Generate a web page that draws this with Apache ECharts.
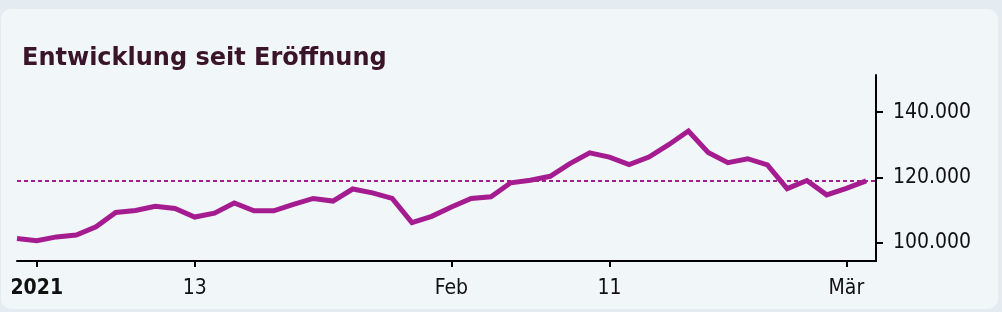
<!DOCTYPE html>
<html>
<head>
<meta charset="utf-8">
<script src="https://cdn.jsdelivr.net/npm/echarts@6/dist/echarts.min.js"></script>
<style>
  html, body { margin: 0; padding: 0; width: 1002px; height: 312px; background: #e4ecf2; overflow: hidden; }
  #card { position: absolute; left: 1px; top: 9px; width: 997px; height: 300px; background: #f1f6f9; border-radius: 10px; }
  #chart { position: absolute; left: 0; top: 0; width: 1002px; height: 312px; }
</style>
</head>
<body>
<div id="card"></div>
<div id="chart"></div>
<script>
const title = 'Entwicklung seit Eröffnung';
const dates = [
  '2020-12-31','2021-01-01','2021-01-04','2021-01-05','2021-01-06','2021-01-07','2021-01-08',
  '2021-01-11','2021-01-12','2021-01-13','2021-01-14','2021-01-15',
  '2021-01-18','2021-01-19','2021-01-20','2021-01-21','2021-01-22',
  '2021-01-25','2021-01-26','2021-01-27','2021-01-28','2021-01-29',
  '2021-02-01','2021-02-02','2021-02-03','2021-02-04','2021-02-05',
  '2021-02-08','2021-02-09','2021-02-10','2021-02-11','2021-02-12',
  '2021-02-15','2021-02-16','2021-02-17','2021-02-18','2021-02-19',
  '2021-02-22','2021-02-23','2021-02-24','2021-02-25','2021-02-26',
  '2021-03-01','2021-03-02'
];
const values = [
  101200, 100500, 101700, 102300, 104800, 109200, 109800,
  111100, 110400, 107800, 109000, 112100,
  109700, 109700, 111700, 113500, 112700,
  116400, 115200, 113500, 106100, 108000,
  110900, 113500, 114000, 118300, 119100,
  120300, 124200, 127500, 126200, 123900,
  126200, 130000, 134200, 127600, 124500,
  125700, 123800, 116500, 119000, 114600,
  116600, 118900
];
const tickDates = ['2021-01-01', '2021-01-13', '2021-02-01', '2021-02-11', '2021-03-01'];
const tickLabels = ['2021', '13', 'Feb', '11', 'Mär'];
const yTicks = [100000, 120000, 140000];

const tickIdx = tickDates.map(d => dates.indexOf(d));
const labelFont = '"DejaVu Sans Condensed", "DejaVu Sans", sans-serif';

const chart = echarts.init(document.getElementById('chart'), null, { renderer: 'canvas' });
chart.setOption({
  animation: false,
  title: {
    text: title,
    left: 17,
    top: 42,
    textStyle: { fontFamily: 'DejaVu Sans', fontWeight: 'bold', fontSize: 24, color: '#3a1428' }
  },
  grid: { left: 17, right: 126, top: 75, bottom: 51, containLabel: false },
  xAxis: {
    type: 'value',
    min: 0,
    max: dates.length - 0.5,
    axisLine: { show: true, onZero: false, lineStyle: { color: '#000', width: 2 } },
    axisTick: { show: true, customValues: tickIdx, length: 6, lineStyle: { color: '#000', width: 2 } },
    axisLabel: {
      customValues: tickIdx,
      margin: 17,
      fontFamily: labelFont,
      fontSize: 21,
      color: '#111',
      formatter: v => {
        const i = tickIdx.indexOf(Math.round(v));
        const t = i >= 0 ? tickLabels[i] : '';
        return i === 0 ? '{b|' + t + '}' : t;
      },
      rich: { b: { fontFamily: labelFont, fontWeight: 'bold', fontSize: 21, color: '#111' } }
    },
    splitLine: { show: false }
  },
  yAxis: {
    type: 'value',
    position: 'right',
    min: 94300,
    max: 151400,
    axisLine: { show: true, onZero: false, lineStyle: { color: '#000', width: 2 } },
    axisTick: { show: true, customValues: yTicks, length: 7, lineStyle: { color: '#000', width: 2 } },
    axisLabel: {
      customValues: yTicks,
      margin: 17,
      fontFamily: labelFont,
      fontSize: 21,
      color: '#111',
      formatter: v => v.toLocaleString('de-DE', { minimumFractionDigits: 0 }).replace(/,/g, '.')
    },
    splitLine: { show: false }
  },
  series: [{
    type: 'line',
    data: values.map((v, i) => [i, v]),
    showSymbol: false,
    lineStyle: { color: '#a51b90', width: 5, join: 'miter' },
    itemStyle: { color: '#a51b90' },
    markLine: {
      silent: true,
      symbol: 'none',
      label: { show: false },
      lineStyle: { color: '#a51b90', type: [4, 3], width: 2 },
      data: [{ yAxis: values[values.length - 1] }]
    }
  }]
});
</script>
</body>
</html>
